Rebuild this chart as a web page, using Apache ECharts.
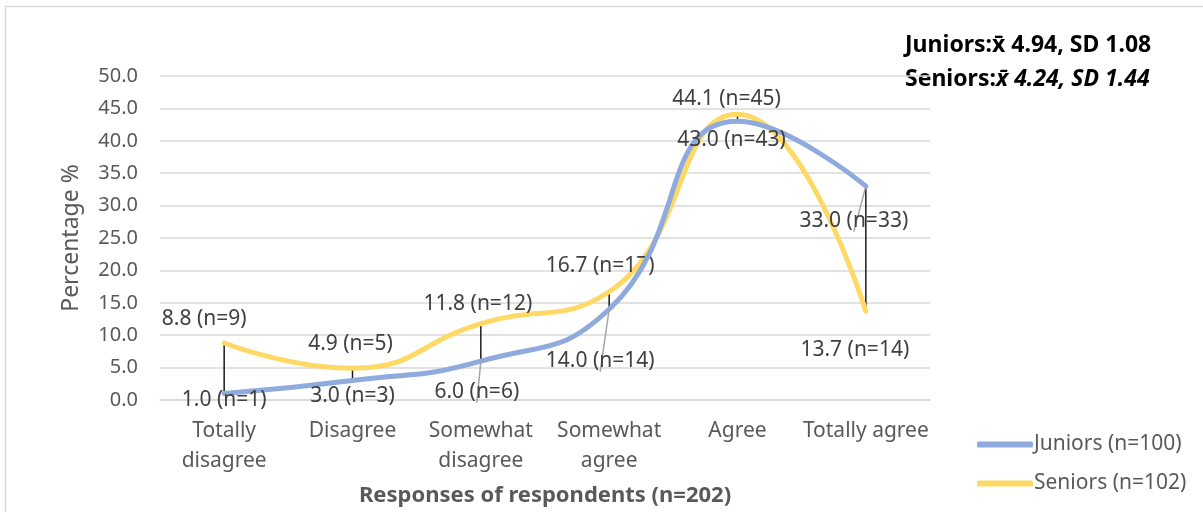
<!DOCTYPE html>
<html>
<head>
<meta charset="utf-8">
<script src="https://cdn.jsdelivr.net/npm/echarts@6/dist/echarts.min.js"></script>
<style>
  html, body { margin: 0; padding: 0; background: #fff; }
  #chart { width: 1203px; height: 512px; }
</style>
</head>
<body>
<div id="chart"></div>
<script>
// Response categories on the x axis
const categories = ['Totally\ndisagree', 'Disagree', 'Somewhat\ndisagree', 'Somewhat\nagree', 'Agree', 'Totally agree'];

// Percentage of respondents per response, and the matching counts
const juniorsPct = [1.0, 3.0, 6.0, 14.0, 43.0, 33.0];
const juniorsN = [1, 3, 6, 14, 43, 33];
const seniorsPct = [8.8, 4.9, 11.8, 16.7, 44.1, 13.7];
const seniorsN = [9, 5, 12, 17, 45, 14];

const juniorsName = 'Juniors (n=100)';
const seniorsName = 'Seniors (n=102)';

// Label placement around each point (offset of the label centre, in px)
const juniorLabelShift = [[0, 6], [0, 15], [-4, 31], [-9, 52], [-6, 19], [-12, 35]];
const seniorLabelShift = [[-20, -24], [-2, -24], [-3, -20], [-9, -26], [-11, -15], [-11, 39]];
// points whose label gets a small guide line back to the curve
const juniorGuide = [false, false, true, true, false, true];

const textFont = '"Noto Sans", "Open Sans", sans-serif';

function withLabels(values, counts, shifts, guides) {
  return values.map((v, i) => ({
    value: v,
    label: {
      offset: shifts[i],
      formatter: v.toFixed(1) + ' (n=' + counts[i] + ')'
    },
    labelLine: { show: !!(guides && guides[i]) }
  }));
}

const chart = echarts.init(document.getElementById('chart'));

const option = {
  animation: false,
  backgroundColor: '#fff',
  textStyle: { fontFamily: textFont },
  graphic: [
    {
      type: 'rect',
      shape: { x: 5.5, y: 6.5, width: 1400, height: 700 },
      style: { fill: 'none', stroke: '#d9d9d9', lineWidth: 1.5 },
      silent: true, z: -10
    },
    {
      type: 'text',
      left: 905, top: 34,
      style: {
        text: '{b|Juniors:x\u0304 4.94, SD 1.08}\n{b|Seniors:}{i|x\u0304 4.24, SD 1.44}',
        rich: {
          b: { fontFamily: textFont, fontSize: 23, fontWeight: 'bold', fill: '#000', lineHeight: 34 },
          i: { fontFamily: textFont, fontSize: 23, fontWeight: 'bold', fontStyle: 'italic', fill: '#000', lineHeight: 34 }
        }
      }
    }
  ],
  grid: { left: 160, right: 273, top: 76, bottom: 112, containLabel: false },
  legend: {
    orient: 'vertical',
    left: 972, top: 429,
    itemWidth: 56, itemHeight: 6,
    itemGap: 18,
    icon: 'roundRect',
    textStyle: { fontSize: 21, color: '#595959', fontFamily: textFont, padding: [0, 0, 0, -4] },
    data: [juniorsName, seniorsName]
  },
  xAxis: {
    type: 'category',
    data: categories,
    boundaryGap: true,
    name: 'Responses of respondents (n=202)',
    nameLocation: 'middle',
    nameGap: 85,
    nameTextStyle: { fontSize: 22, fontWeight: 'bold', color: '#595959', fontFamily: textFont },
    axisLine: { lineStyle: { color: '#d9d9d9', width: 1.5 } },
    axisTick: { show: false },
    axisLabel: { fontSize: 21, color: '#595959', lineHeight: 30, margin: 16, interval: 0, fontFamily: textFont }
  },
  yAxis: {
    type: 'value',
    min: 0, max: 50, interval: 5,
    name: 'Percentage %',
    nameLocation: 'middle',
    nameGap: 77,
    nameRotate: 90,
    nameTextStyle: { fontSize: 23, color: '#595959', fontFamily: textFont },
    axisLine: { show: false },
    axisTick: { show: false },
    axisLabel: { fontSize: 20, color: '#595959', margin: 22, formatter: v => v.toFixed(1), fontFamily: textFont },
    splitLine: { lineStyle: { color: '#d9d9d9', width: 1.5 } }
  },
  series: [
    {
      // vertical high-low connectors between the two series
      type: 'custom',
      name: 'hilo',
      silent: true,
      z: 1,
      data: juniorsPct.map((v, i) => [i, v, seniorsPct[i]]),
      encode: { x: 0, y: [1, 2] },
      renderItem: function (params, api) {
        const a = api.coord([api.value(0), api.value(1)]);
        const b = api.coord([api.value(0), api.value(2)]);
        return {
          type: 'line',
          shape: { x1: a[0], y1: a[1], x2: b[0], y2: b[1] },
          style: { stroke: '#1a1a1a', lineWidth: 1.5 }
        };
      }
    },
    {
      name: juniorsName,
      type: 'line',
      smooth: 0.5,
      z: 3,
      symbol: 'circle',
      symbolSize: 1,
      lineStyle: { color: '#8faadc', width: 5, cap: 'round' },
      itemStyle: { color: '#8faadc' },
      label: { show: true, position: 'inside', fontSize: 21, color: '#404040', fontFamily: textFont },
      labelLine: { lineStyle: { color: '#a6a6a6', width: 1.5 } },
      data: withLabels(juniorsPct, juniorsN, juniorLabelShift, juniorGuide)
    },
    {
      name: seniorsName,
      type: 'line',
      smooth: 0.5,
      z: 2,
      symbol: 'circle',
      symbolSize: 1,
      lineStyle: { color: '#ffd966', width: 5, cap: 'round' },
      itemStyle: { color: '#ffd966' },
      label: { show: true, position: 'inside', fontSize: 21, color: '#404040', fontFamily: textFont },
      data: withLabels(seniorsPct, seniorsN, seniorLabelShift, null)
    }
  ]
};

chart.setOption(option);
</script>
</body>
</html>
